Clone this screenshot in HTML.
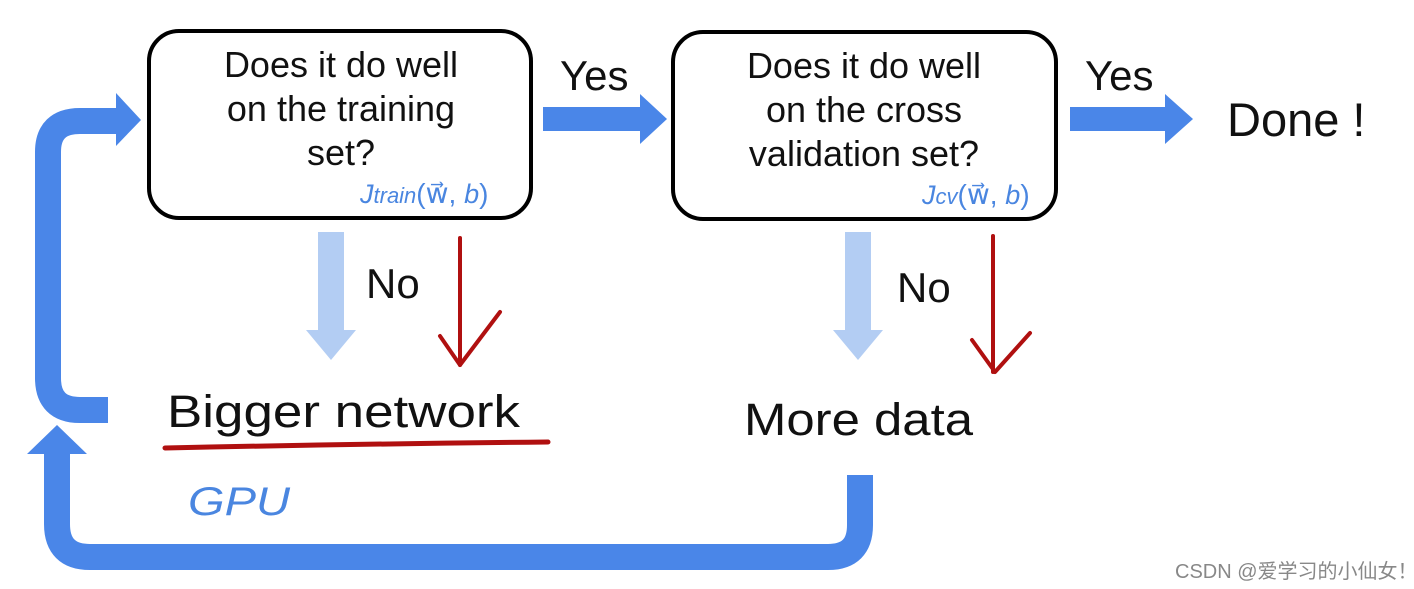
<!DOCTYPE html>
<html><head><meta charset="utf-8"><style>
html,body{margin:0;padding:0;background:#fff;}
svg{display:block;}
text{font-family:"Liberation Sans","Noto Sans CJK SC",sans-serif;}
</style></head><body>
<svg width="1414" height="589" viewBox="0 0 1414 589" xmlns="http://www.w3.org/2000/svg">
<rect width="1414" height="589" fill="#fff"/>
<rect x="149" y="31" width="382" height="187" rx="30" fill="#fff" stroke="#000" stroke-width="4"/>
<rect x="673" y="32" width="383" height="187" rx="30" fill="#fff" stroke="#000" stroke-width="4"/>
<g font-size="36" fill="#111" text-anchor="middle">
<text x="341" y="77">Does it do well</text>
<text x="341" y="121">on the training</text>
<text x="341" y="165">set?</text>
<text x="864" y="78">Does it do well</text>
<text x="864" y="122">on the cross</text>
<text x="864" y="166">validation set?</text>
</g>
<g fill="#4a86e0" font-family="Liberation Serif,serif" font-size="27">
<text x="360" y="203" font-style="italic">J<tspan font-size="22">train</tspan><tspan font-style="normal" font-size="28">(w⃗, </tspan><tspan>b</tspan><tspan font-style="normal" font-size="28">)</tspan></text>
<text x="922" y="204" font-style="italic">J<tspan font-size="22">cv</tspan><tspan font-style="normal" font-size="28">(w⃗, </tspan><tspan>b</tspan><tspan font-style="normal" font-size="28">)</tspan></text>
</g>
<g fill="#4a86e8">
<rect x="543" y="107" width="100" height="24"/>
<polygon points="640,94 667,119 640,144"/>
<rect x="1070" y="107" width="98" height="24"/>
<polygon points="1165,94 1193,119 1165,144"/>
</g>
<text x="560" y="90" font-size="42" fill="#111">Yes</text>
<text x="1085" y="90" font-size="42" fill="#111">Yes</text>
<text x="1227" y="136" font-size="47" fill="#111">Done !</text>
<g fill="#b3cdf3">
<rect x="318" y="232" width="26" height="100"/>
<polygon points="306,330 356,330 331,360"/>
<rect x="845" y="232" width="26" height="100"/>
<polygon points="833,330 883,330 858,360"/>
</g>
<text x="366" y="298" font-size="42" fill="#111">No</text>
<text x="897" y="302" font-size="42" fill="#111">No</text>
<g stroke="#b01010" stroke-width="4" fill="none" stroke-linecap="round" stroke-linejoin="round">
<path d="M460,238 V365"/>
<path d="M440,336 L460,365 L500,312"/>
<path d="M993,236 V372"/>
<path d="M972,340 L995,372 L1030,333"/>
<path d="M165,448 Q350,444 548,442" stroke-width="5"/>
</g>
<text x="167" y="427" font-size="45" fill="#111" font-family="DejaVu Sans,sans-serif" textLength="353" lengthAdjust="spacingAndGlyphs">Bigger network</text>
<text x="744" y="435" font-size="45" fill="#111" font-family="DejaVu Sans,sans-serif" textLength="229" lengthAdjust="spacingAndGlyphs">More data</text>
<text x="188" y="515" font-size="40" fill="#4a86e0" font-style="italic" textLength="102" lengthAdjust="spacingAndGlyphs">GPU</text>
<g stroke="#4a86e8" stroke-width="26" fill="none">
<path d="M108,410 H80 Q48,410 48,378 V152 Q48,121 80,121 H122"/>
<path d="M860,475 V525 Q860,557 828,557 H90 Q57,557 57,524 V450"/>
</g>
<g fill="#4a86e8">
<polygon points="116,93 141,120 116,146"/>
<polygon points="27,454 57,425 87,454"/>
</g>
<text x="1175" y="578" font-size="20" fill="#888">CSDN @爱学习的小仙女！</text>
</svg>
</body></html>
